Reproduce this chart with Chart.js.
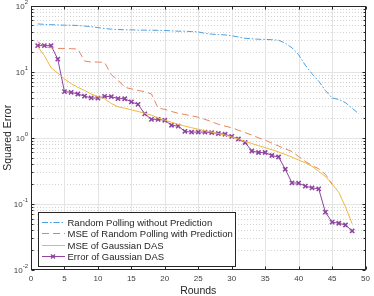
<!DOCTYPE html>
<html>
<head>
<meta charset="utf-8">
<script src="https://cdn.jsdelivr.net/npm/chart.js@4/dist/chart.umd.min.js"></script>
<style>
html,body{margin:0;padding:0;background:#fff;}
#wrap{width:374px;height:296px;position:relative;}
</style>
</head>
<body>
<div id="wrap"><canvas id="c" width="374" height="296"></canvas></div>
<script>
// ---- data ----
const rounds = [1,2,3,4,5,6,7,8,9,10,11,12,13,14,15,16,17,18,19,20,21,22,23,24,25,26,27,28,29,30,31,32,33,34,35,36,37,38,39,40,41,42,43,44,45,46,47,48,49];
const seriesNames = ["Random Polling without Prediction","MSE of Random Polling with Prediction","MSE of Gaussian DAS","Error of Gaussian DAS"];
const randomNoPred = [52.8,52,51.5,51,50.5,50.5,50,49,48,46.5,45,44,43.5,43,43,42.5,42.5,42.5,42.2,42,41.5,41,41,40.5,40,38,37,36.5,36,35,33.5,32,31.5,31,30.8,30.5,30,27,23,18,12.5,9.3,7.2,5.2,4,3.8,3.4,2.8,2.3];
const randomPred = [28.5,24,23,22.5,22.5,22.3,22,14.5,14,14,13.8,9,7.5,5.8,5.5,5.2,5,4.6,2.8,2.7,2.5,2.35,2.25,2.15,2.05,1.9,1.75,1.6,1.5,1.42,1.3,1.2,1.1,1.0,0.92,0.83,0.75,0.68,0.62,0.52,0.44,0.38,0.34,0.28,0.2];
const mseDAS = [24,17.5,11.5,9.5,7.8,6.6,5.8,5.2,4.6,4.2,3.9,3.3,2.95,2.8,2.65,2.5,2.35,2.2,2.0,1.85,1.72,1.6,1.5,1.42,1.35,1.28,1.22,1.16,1.1,1.03,0.96,0.88,0.82,0.76,0.71,0.66,0.61,0.56,0.51,0.46,0.42,0.37,0.31,0.26,0.2,0.15,0.09,0.05];
const errDAS = [24.8,24.8,24.8,15.5,5.0,4.87,4.6,4.27,4.02,3.98,4.23,4.2,3.92,3.9,3.5,3.2,2.3,1.9,1.9,1.84,1.55,1.5,1.25,1.22,1.22,1.22,1.2,1.16,1.13,1.05,0.96,0.85,0.632,0.598,0.598,0.539,0.513,0.335,0.208,0.206,0.186,0.175,0.169,0.075,0.053,0.051,0.048,0.039];
const xTicks = [0,5,10,15,20,25,30,35,40,45,50];
const yDecades = [0.01,0.1,1,10,100];
const yExponents = ["-2","-1","0","1","2"];

const colors = ['#4A9FE0','#E5845C','#F0B83C','#8E44A0'];
const FONT = '"Liberation Sans", Arial, Helvetica, sans-serif';

function pts(arr){ return arr.map((v,i)=>({x:rounds[i], y:v})); }

const chromePlugin = {
  id:'chrome',
  beforeDatasetsDraw(chart){
    const {ctx, chartArea:a, scales:{x,y}} = chart;
    ctx.save();
    ctx.beginPath(); ctx.rect(a.left,a.top,a.right-a.left,a.bottom-a.top); ctx.clip();
    ctx.strokeStyle = '#d2d2d2'; ctx.lineWidth = 1; ctx.setLineDash([1,2]);
    for (let d=0; d<yDecades.length-1; d++){
      for (let m=2; m<=9; m++){
        const py = Math.round(y.getPixelForValue(yDecades[d]*m))+0.5;
        ctx.beginPath(); ctx.moveTo(a.left,py); ctx.lineTo(a.right,py); ctx.stroke();
      }
    }
    ctx.setLineDash([]);
    ctx.strokeStyle = '#e4e4e4';
    yDecades.forEach(v=>{
      const py = Math.round(y.getPixelForValue(v))+0.5;
      ctx.beginPath(); ctx.moveTo(a.left,py); ctx.lineTo(a.right,py); ctx.stroke();
    });
    xTicks.forEach(v=>{
      const px = Math.round(x.getPixelForValue(v))+0.5;
      ctx.beginPath(); ctx.moveTo(px,a.top); ctx.lineTo(px,a.bottom); ctx.stroke();
    });
    ctx.restore();
  },
  afterDraw(chart){
    const {ctx, chartArea:a, scales:{x,y}} = chart;
    ctx.save();
    ctx.strokeStyle = '#262626'; ctx.lineWidth = 1; ctx.setLineDash([]);
    const L = Math.round(a.left)+0.5, R = Math.round(a.right)-0.5, T = Math.round(a.top)+0.5, B = Math.round(a.bottom)-0.5;
    ctx.strokeRect(L,T,R-L,B-T);
    xTicks.forEach(v=>{
      const px = Math.round(x.getPixelForValue(v))+0.5;
      ctx.beginPath(); ctx.moveTo(px,B); ctx.lineTo(px,B-3); ctx.moveTo(px,T); ctx.lineTo(px,T+3); ctx.stroke();
    });
    for (let d=0; d<yDecades.length; d++){
      const py = Math.round(y.getPixelForValue(yDecades[d]))+0.5;
      ctx.beginPath(); ctx.moveTo(L,py); ctx.lineTo(L+3,py); ctx.moveTo(R,py); ctx.lineTo(R-3,py); ctx.stroke();
      if (d<yDecades.length-1){
        for (let m=2;m<=9;m++){
          const q = Math.round(y.getPixelForValue(yDecades[d]*m))+0.5;
          ctx.beginPath(); ctx.moveTo(L,q); ctx.lineTo(L+2,q); ctx.moveTo(R,q); ctx.lineTo(R-2,q); ctx.stroke();
        }
      }
    }
    ctx.fillStyle = '#404040';
    yDecades.forEach((v,i)=>{
      const py = y.getPixelForValue(v);
      const e = yExponents[i];
      ctx.font = '6px ' + FONT;
      const ew = ctx.measureText(e).width;
      const rightEdge = a.left - 3;
      ctx.textBaseline = 'middle'; ctx.textAlign = 'left';
      ctx.fillText(e, rightEdge - ew, py - 3.5);
      ctx.font = '8px ' + FONT;
      ctx.textAlign = 'right';
      ctx.fillText('10', rightEdge - ew, py + 1);
    });
    // legend
    const lx = 38.5, ly = 212.5, lw = 197, lh = 54;
    ctx.fillStyle = '#ffffff';
    ctx.fillRect(lx,ly,lw,lh);
    ctx.strokeStyle = '#262626';
    ctx.strokeRect(lx,ly,lw,lh);
    const rows = [221.5,233,244.5,256];
    chart.data.datasets.forEach((ds,i)=>{
      const ry = Math.round(rows[i])+0.5;
      ctx.strokeStyle = ds.borderColor; ctx.lineWidth = 1;
      ctx.setLineDash(ds.borderDash || []);
      ctx.beginPath(); ctx.moveTo(42,ry); ctx.lineTo(65,ry); ctx.stroke();
      ctx.setLineDash([]);
      if (ds.pointStyle === 'crossRot'){
        ctx.lineWidth = 1.4;
        ctx.beginPath(); ctx.moveTo(51,ry-2); ctx.lineTo(55,ry+2); ctx.moveTo(55,ry-2); ctx.lineTo(51,ry+2); ctx.stroke();
      }
      ctx.fillStyle = '#262626';
      ctx.font = '9.5px ' + FONT;
      ctx.textAlign = 'left'; ctx.textBaseline = 'middle';
      ctx.fillText(ds.label, 67.5, ry+0.5);
    });
    ctx.restore();
  }
};

new Chart(document.getElementById('c'), {
  type:'line',
  data:{
    datasets:[
      {label:seriesNames[0], data:pts(randomNoPred), borderColor:colors[0], borderWidth:1, borderDash:[6,2,1.5,2], pointRadius:0, fill:false, tension:0},
      {label:seriesNames[1], data:pts(randomPred), borderColor:colors[1], borderWidth:1, borderDash:[7,4], pointRadius:0, fill:false, tension:0},
      {label:seriesNames[2], data:pts(mseDAS), borderColor:colors[2], borderWidth:1, pointRadius:0, fill:false, tension:0},
      {label:seriesNames[3], data:pts(errDAS), borderColor:colors[3], backgroundColor:colors[3], borderWidth:1, pointStyle:'crossRot', pointRadius:3, pointBorderWidth:1.6, fill:false, tension:0}
    ]
  },
  options:{
    responsive:false, animation:false, devicePixelRatio:1,
    layout:{padding:{left:0,right:5,top:5,bottom:0}},
    plugins:{legend:{display:false}, tooltip:{enabled:false}},
    scales:{
      x:{type:'linear', min:0, max:50,
        afterFit(s){ s.height = 26; },
        grid:{display:false, drawTicks:false}, border:{display:false},
        ticks:{stepSize:5, color:'#404040', font:{size:8, family:FONT}, padding:4, maxRotation:0},
        title:{display:true, text:'Rounds', color:'#262626', font:{size:10.5, family:FONT, lineHeight:1}, padding:{top:0,bottom:-0.5}}
      },
      y:{type:'logarithmic', min:0.01, max:100,
        afterFit(s){ s.width = 31; },
        grid:{display:false, drawTicks:false}, border:{display:false},
        ticks:{display:false},
        title:{display:true, text:'Squared Error', color:'#262626', font:{size:10.5, family:FONT, lineHeight:1}, padding:{top:2.5,bottom:0}}
      }
    }
  },
  plugins:[chromePlugin]
});
</script>
</body>
</html>
